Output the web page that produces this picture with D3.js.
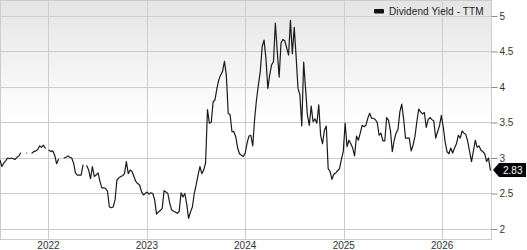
<!DOCTYPE html>
<html>
<head>
<meta charset="utf-8">
<script src="https://cdn.jsdelivr.net/npm/d3@7"></script>
<style>
  body { margin: 0; background: #fff; }
  text { font-family: "Liberation Sans", Arial, sans-serif; }
</style>
</head>
<body>
<div id="chart"></div>
<script>
/* CONSTANTS AND GLOBALS */
const width = 527,
  height = 250,
  margin = { top: 0, right: 35, bottom: 10, left: 0 };

/* DATA */
// weekly dividend yield (TTM), first week starting 2021-07-05; null = no value
const startDate = "2021-07-05";
const seriesName = "Dividend Yield - TTM";
const yields = [
  2.97, 2.88, 2.93, 2.96, 3.00, 2.99, 3.00, 2.99, 2.98, 3.01,
  3.03, 3.07, null, null, 3.07, null, null, 3.07, 3.09, 3.10,
  3.12, 3.17, 3.15, 3.18, 3.14, null, 3.11, 3.09, 3.10, 3.04,
  2.92, 2.98, null, null, 3.00, 3.01, 3.03, 3.01, 3.00, 2.93,
  2.79, 2.76, 2.76, 2.76, 2.90, null, 2.89, 2.83, 2.71, 2.88,
  2.74, 2.76, 2.79, 2.67, 2.58, 2.58, 2.57, 2.53, 2.31, 2.30,
  2.31, 2.41, 2.69, 2.72, 2.74, 2.75, 2.78, 2.95, 2.78, 2.83,
  2.81, 2.74, 2.67, 2.64, 2.62, 2.53, 2.48, 2.50, 2.52, 2.49,
  2.51, 2.50, 2.41, 2.21, 2.24, 2.26, 2.29, 2.54, 2.52, 2.50,
  2.36, 2.27, 2.25, 2.24, 2.22, 2.25, 2.51, 2.45, 2.50, 2.35,
  2.15, 2.24, 2.31, 2.50, 2.62, 2.76, 2.88, 2.78, 2.83, 2.93,
  3.68, 3.49, 3.50, 3.79, 3.82, 3.98, 4.10, 4.17, 4.22, 4.36,
  4.17, 3.63, 3.61, 3.37, 3.37, 3.30, 3.14, 3.06, 3.04, 3.02,
  3.07, 3.21, 3.31, 3.32, 3.17, 3.55, 3.82, 4.03, 4.22, 4.57,
  4.66, 4.40, 3.98, 4.17, 4.31, 4.36, 4.90, 4.50, 4.14, 4.62,
  4.67, 4.65, 4.55, 4.45, 4.94, 4.47, 4.84, 4.43, 3.98, 3.89,
  3.45, 4.35, 3.98, 3.60, 3.46, 3.73, 3.51, 3.55, 3.49, 3.75,
  3.32, 3.20, 3.39, 3.45, 2.85, 2.81, 2.70, 2.77, 2.79, 2.82,
  2.85, 2.98, 3.09, 3.49, 3.16, 3.25, 3.20, 3.14, 3.03, 3.31,
  3.25, 3.35, 3.46, 3.44, 3.46, 3.56, 3.63, 3.56, 3.56, 3.54,
  3.50, 3.32, 3.35, 3.24, 3.24, 3.57, 3.53, 3.39, 3.09, 3.25,
  3.35, 3.40, 3.65, 3.76, 3.55, 3.28, 3.28, 3.28, 3.10, 3.18,
  3.30, 3.51, 3.69, 3.65, 3.62, 3.64, 3.43, 3.54, 3.57, 3.54,
  3.52, 3.28, 3.37, 3.45, 3.60, 3.44, 3.23, 3.09, 3.06, 3.14,
  3.07, 3.14, 3.20, 3.32, 3.28, 3.38, 3.35, 3.33, 3.23, 3.09,
  2.95, 3.10, 3.25, 3.15, 3.17, 3.11, 3.09, 3.06, 2.95, 3.00,
  2.83
];
const yTicks = [2, 2.5, 3, 3.5, 4, 4.5, 5];
const yearTicks = ["2022", "2023", "2024", "2025", "2026"];
const xDomain = ["2021-07-05", "2026-07-05"];
const yDomain = [1.845, 5.225];

const parseDate = d3.timeParse("%Y-%m-%d");
const data = yields.map((v, i) => ({
  date: d3.timeWeek.offset(parseDate(startDate), i),
  value: v
}));
const last = data[data.length - 1];

/* SVG */
const svg = d3.select("#chart")
  .append("svg")
  .attr("width", width)
  .attr("height", height);

const plotW = width - margin.left - margin.right,
  plotH = height - margin.top - margin.bottom;

// + SCALES
const xScale = d3.scaleTime()
  .domain(xDomain.map(parseDate))
  .range([margin.left, margin.left + plotW]);
const yScale = d3.scaleLinear()
  .domain(yDomain)
  .range([margin.top + plotH, margin.top]);

// background gradient
const grad = svg.append("defs").append("linearGradient")
  .attr("id", "bg")
  .attr("x1", 0).attr("y1", 0).attr("x2", 0).attr("y2", 1);
grad.append("stop").attr("offset", "0%").attr("stop-color", "#e4e4e4");
grad.append("stop").attr("offset", "50%").attr("stop-color", "#ffffff");
grad.append("stop").attr("offset", "100%").attr("stop-color", "#ffffff");

svg.append("rect")
  .attr("x", margin.left + 0.5)
  .attr("y", margin.top + 0.5)
  .attr("width", plotW - 1)
  .attr("height", plotH - 1)
  .attr("fill", "url(#bg)")
  .attr("stroke", "#cccccc");

// + GRID
svg.append("g")
  .selectAll("line")
  .data(yTicks)
  .join("line")
  .attr("x1", margin.left)
  .attr("x2", margin.left + plotW)
  .attr("y1", d => Math.round(yScale(d)) + 0.5)
  .attr("y2", d => Math.round(yScale(d)) + 0.5)
  .attr("stroke", "#cccccc");

svg.append("g")
  .selectAll("line")
  .data(yearTicks)
  .join("line")
  .attr("x1", d => Math.round(xScale(parseDate(d + "-01-01"))) + 0.5)
  .attr("x2", d => Math.round(xScale(parseDate(d + "-01-01"))) + 0.5)
  .attr("y1", margin.top)
  .attr("y2", margin.top + plotH)
  .attr("stroke", "#cccccc");

// + AXES
const yAxis = d3.axisRight(yScale)
  .tickValues(yTicks)
  .tickSize(6)
  .tickPadding(2)
  .tickFormat(d3.format("~g"));
svg.append("g")
  .attr("class", "axis y-axis")
  .attr("transform", `translate(${margin.left + plotW - 0.5},0)`)
  .call(yAxis)
  .call(g => g.select(".domain").remove())
  .call(g => g.selectAll("line").attr("stroke", "#888"))
  .call(g => g.selectAll("text")
    .attr("fill", "#333")
    .style("font-size", "10px"));

svg.append("g")
  .selectAll("text")
  .data(yearTicks)
  .join("text")
  .attr("x", d => xScale(parseDate(d + "-01-01")))
  .attr("y", height - 1)
  .attr("text-anchor", "middle")
  .attr("fill", "#333")
  .style("font-size", "10px")
  .text(d => d);

// + LINE
const line = d3.line()
  .defined(d => d.value !== null)
  .x(d => xScale(d.date))
  .y(d => yScale(d.value));

svg.append("path")
  .datum(data)
  .attr("fill", "none")
  .attr("stroke", "#1a1a1a")
  .attr("stroke-width", 1.2)
  .attr("stroke-linejoin", "round")
  .attr("stroke-linecap", "round")
  .attr("d", line);

// + LEGEND
const legend = svg.append("g")
  .attr("transform", `translate(${margin.left + plotW - 118},0)`);
legend.append("rect")
  .attr("x", 0).attr("y", 9)
  .attr("width", 10).attr("height", 4.5)
  .attr("rx", 1)
  .attr("fill", "#111");
legend.append("text")
  .attr("x", 15).attr("y", 15)
  .attr("fill", "#222")
  .style("font-size", "10px")
  .style("letter-spacing", "0.1px")
  .text(seriesName);

// + LAST VALUE FLAG
const ly = yScale(last.value),
  lx = margin.left + plotW + 1;
svg.append("path")
  .attr("d", `M${lx},${ly} L${lx + 6},${ly - 7} L${width - 1},${ly - 7} L${width - 1},${ly + 7} L${lx + 6},${ly + 7} Z`)
  .attr("fill", "#000");
svg.append("text")
  .attr("x", lx + 10)
  .attr("y", ly + 4)
  .attr("fill", "#fff")
  .style("font-size", "10px")
  .text(d3.format(".2f")(last.value));
</script>
</body>
</html>
